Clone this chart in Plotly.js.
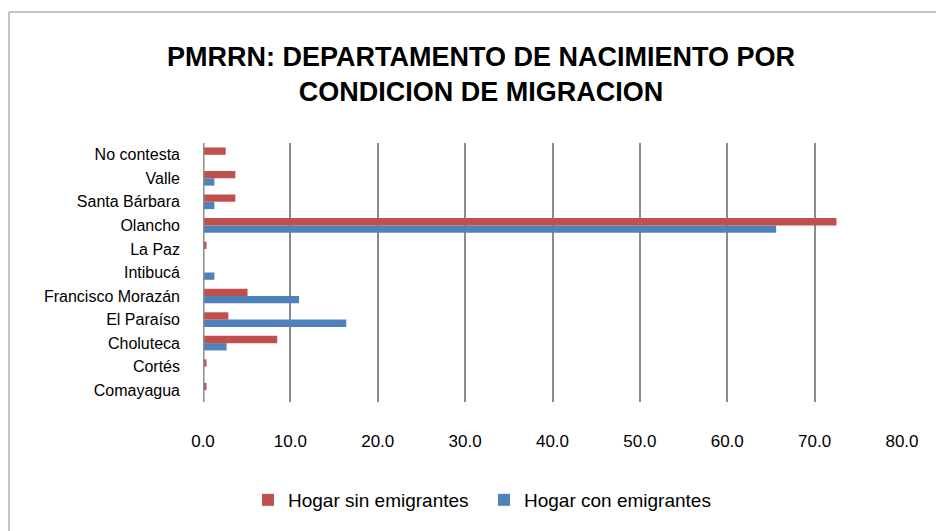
<!DOCTYPE html>
<html>
<head>
<meta charset="utf-8">
<script src="https://cdn.plot.ly/plotly-3.0.1.min.js"></script>
<style>html,body{margin:0;padding:0;background:#fff;}#chart{width:936px;height:531px;}</style>
</head>
<body>
<div id="chart"></div>
<script>
const categories = ["Comayagua","Cortés","Choluteca","El Paraíso","Francisco Morazán","Intibucá","La Paz","Olancho","Santa Bárbara","Valle","No contesta"];
const sinEmigrantes = [0.4, 0.4, 8.5, 2.9, 5.1, 0, 0.4, 72.5, 3.7, 3.7, 2.6];
const conEmigrantes = [0, 0, 2.7, 16.4, 11.0, 1.3, 0, 65.6, 1.3, 1.3, 0];
const xTicks = [0,10,20,30,40,50,60,70,80];

const font = "Liberation Sans, Arial, sans-serif";
const L = 203, R = 34, T = 143, B = 129, W = 936, H = 531;
const pw = W - L - R, ph = H - T - B;

const data = [
  {type:'bar', orientation:'h', name:'Hogar con emigrantes', y:categories, x:conEmigrantes,
   marker:{color:'#4F81BD'}},
  {type:'bar', orientation:'h', name:'Hogar sin emigrantes', y:categories, x:sinEmigrantes,
   marker:{color:'#C0504D'}}
];

const layout = {
  width:W, height:H,
  margin:{l:L, r:R, t:T, b:B, pad:0},
  paper_bgcolor:'#fff', plot_bgcolor:'#fff',
  barmode:'group', bargap:0.38, bargroupgap:0,
  font:{family:font, size:16, color:'#000'},
  title:{text:'<b>PMRRN: DEPARTAMENTO DE NACIMIENTO POR<br>CONDICION DE MIGRACION</b>',
    font:{family:font, size:27, color:'#000'},
    x:0.514, xref:'container', xanchor:'center', y:1-66/531, yref:'container', yanchor:'middle'},
  xaxis:{range:[0,80], tickvals:xTicks, tickformat:'.1f', showgrid:true, gridcolor:'#8c8c8c', gridwidth:2,
    zeroline:false, showline:false, ticks:'', ticklabelstandoff:27, tickfont:{size:17, family:font}},
  yaxis:{type:'category', categoryorder:'array', categoryarray:categories, showgrid:false, zeroline:false,
    showline:false, ticks:'', ticklabelstandoff:22, tickfont:{size:16, family:font}},
  shapes:[
    {type:'line', xref:'x', yref:'paper', x0:0, x1:0, y0:0, y1:1, line:{color:'#8c8c8c', width:3}},
    {type:'rect', xref:'paper', yref:'paper', x0:(9-L)/pw, x1:(945-L)/pw, y0:(H-B-540)/ph, y1:1+(T-12)/ph,
     line:{color:'#868686', width:1}, fillcolor:'rgba(0,0,0,0)', layer:'below'}
  ],
  legend:{orientation:'h', traceorder:'reversed', x:(248-L)/pw, xanchor:'left', y:(H-B-500)/ph, yanchor:'middle',
    font:{size:19, family:font}, itemwidth:30, entrywidth:191, entrywidthmode:'pixels'},
  showlegend:true
};

Plotly.newPlot('chart', data, layout, {displayModeBar:false, staticPlot:true});
</script>
</body>
</html>
